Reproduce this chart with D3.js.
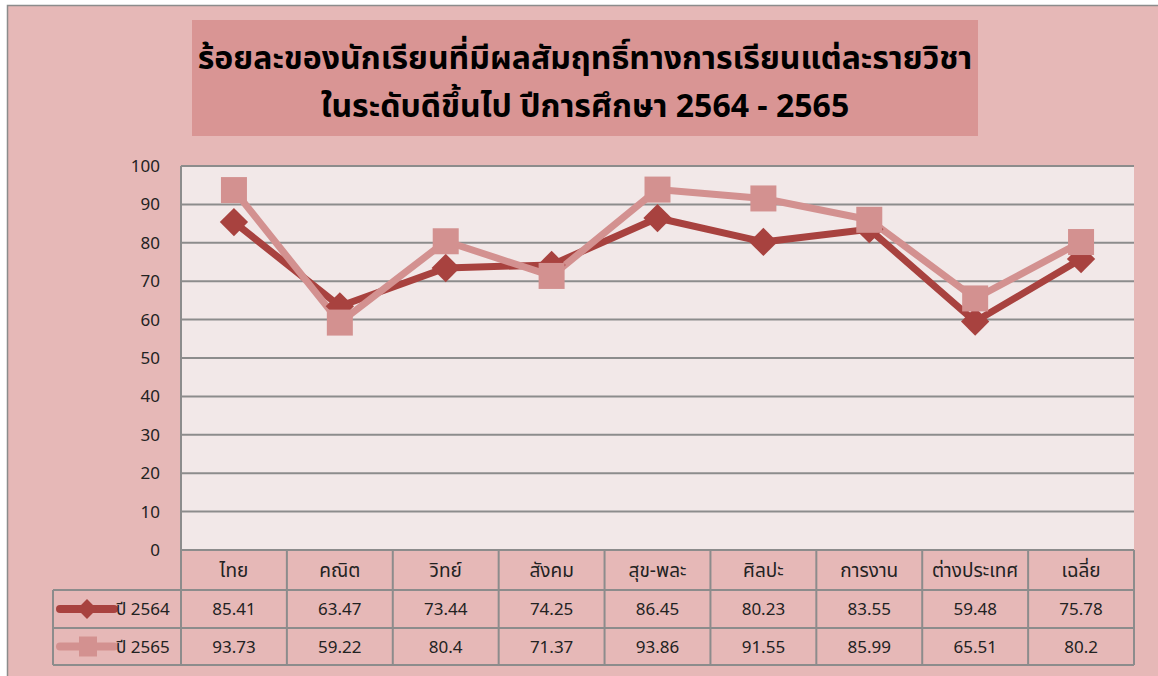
<!DOCTYPE html>
<html><head><meta charset="utf-8">
<script src="https://cdn.jsdelivr.net/npm/d3@7/dist/d3.min.js"></script>
<style>body{margin:0;background:#fff;} svg{display:block;}</style>
</head><body><svg id="c" width="1158" height="676"></svg>
<script>
const categories = ["ไทย","คณิต","วิทย์","สังคม","สุข-พละ","ศิลปะ","การงาน","ต่างประเทศ","เฉลี่ย"];
const seriesNames = ["ปี 2564","ปี 2565"];
const values2564 = [85.41,63.47,73.44,74.25,86.45,80.23,83.55,59.48,75.78];
const values2565 = [93.73,59.22,80.4,71.37,93.86,91.55,85.99,65.51,80.2];
const valueLabels2564 = ["85.41","63.47","73.44","74.25","86.45","80.23","83.55","59.48","75.78"];
const valueLabels2565 = ["93.73","59.22","80.4","71.37","93.86","91.55","85.99","65.51","80.2"];
const yTicks = [0,10,20,30,40,50,60,70,80,90,100];
const titleLines = ["ร้อยละของนักเรียนที่มีผลสัมฤทธิ์ทางการเรียนแต่ละรายวิชา","ในระดับดีขึ้นไป ปีการศึกษา 2564 - 2565"];

const svg = d3.select("#c");
const font = "'Noto Sans Thai','Tahoma','DejaVu Sans','Noto Sans',sans-serif";
const colors = ["#a8423f","#d39190"];

// outer frame
svg.append("rect").attr("x",7.5).attr("y",5.5).attr("width",1160).attr("height",680)
  .attr("fill","#e6b8b7").attr("stroke","#8c8c8c").attr("stroke-width",1.5);

// title
svg.append("rect").attr("x",192).attr("y",20).attr("width",786).attr("height",116).attr("fill","#d99594");
svg.selectAll("text.title").data(titleLines).enter().append("text")
  .attr("x",585).attr("y",(d,i)=>69+i*48).attr("text-anchor","middle")
  .attr("font-family",font).attr("font-weight","bold").attr("font-size",32).attr("fill","#000").text(d=>d);

const L=181, R=1134, T=166, B=550;
const x = d3.scaleBand().domain(categories).range([L,R]);
const y = d3.scaleLinear().domain([0,100]).range([B,T]);

svg.append("rect").attr("x",L).attr("y",T).attr("width",R-L).attr("height",B-T).attr("fill","#f2e8e8");

// gridlines
svg.append("g").selectAll("line").data(yTicks).enter().append("line")
  .attr("x1",L).attr("x2",R).attr("y1",d=>y(d)).attr("y2",d=>y(d))
  .attr("stroke","#8c8c8c").attr("stroke-width",2);
svg.append("line").attr("x1",L).attr("x2",L).attr("y1",T).attr("y2",B).attr("stroke","#8c8c8c").attr("stroke-width",2);

// y axis labels
const yAxis = d3.axisLeft(y).tickValues(yTicks).tickSize(0).tickPadding(0);
const ga = svg.append("g").attr("transform",`translate(${L-21},0)`).call(yAxis);
ga.select(".domain").remove();
ga.selectAll("text").attr("font-family",font).attr("font-size",17).attr("fill","#222");

// lines
const cx = d=>x(d)+x.bandwidth()/2;
const line = d3.line().x((d,i)=>cx(categories[i])).y(d=>y(d));
const allSeries = [values2564, values2565];
allSeries.forEach((vals,si)=>{
  svg.append("path").datum(vals).attr("d",line).attr("fill","none")
    .attr("stroke",colors[si]).attr("stroke-width",7).attr("stroke-linejoin","round");
});
// markers
const g1 = svg.append("g");
g1.selectAll("rect").data(values2564).enter().append("rect")
  .attr("x",-10).attr("y",-10).attr("width",20).attr("height",20)
  .attr("transform",(d,i)=>`translate(${cx(categories[i])},${y(d)}) rotate(45)`)
  .attr("fill",colors[0]);
const g2 = svg.append("g");
g2.selectAll("rect").data(values2565).enter().append("rect")
  .attr("x",(d,i)=>cx(categories[i])-13).attr("y",d=>y(d)-13).attr("width",26).attr("height",26)
  .attr("fill",colors[1]);

// data table
const rowY=[550,590,628,665];
const tbl = svg.append("g");
const lc="#8c8c8c";
tbl.append("line").attr("x1",L).attr("x2",R).attr("y1",rowY[0]).attr("y2",rowY[0]).attr("stroke",lc).attr("stroke-width",2);
[1,2,3].forEach(k=>tbl.append("line").attr("x1",53).attr("x2",R).attr("y1",rowY[k]).attr("y2",rowY[k]).attr("stroke",lc).attr("stroke-width",2));
const vx = categories.map(c=>x(c)).concat([R]);
vx.forEach(v=>tbl.append("line").attr("x1",v).attr("x2",v).attr("y1",rowY[0]).attr("y2",rowY[3]).attr("stroke",lc).attr("stroke-width",2));
tbl.append("line").attr("x1",53).attr("x2",53).attr("y1",rowY[1]).attr("y2",rowY[3]).attr("stroke",lc).attr("stroke-width",2);

const tf = 17;
tbl.selectAll("text.cat").data(categories).enter().append("text")
  .attr("x",d=>cx(d)).attr("y",(rowY[0]+rowY[1])/2+7).attr("text-anchor","middle")
  .attr("font-family",font).attr("font-size",19).attr("fill","#222").text(d=>d);
[valueLabels2564,valueLabels2565].forEach((labs,si)=>{
  tbl.selectAll("text.v"+si).data(labs).enter().append("text")
    .attr("x",(d,i)=>cx(categories[i])).attr("y",(rowY[si+1]+rowY[si+2])/2+6).attr("text-anchor","middle")
    .attr("font-family",font).attr("font-size",tf).attr("fill","#222").text(d=>d);
  const my=(rowY[si+1]+rowY[si+2])/2;
  tbl.append("line").attr("x1",60).attr("x2",114).attr("y1",my).attr("y2",my)
    .attr("stroke",colors[si]).attr("stroke-width",8).attr("stroke-linecap","round");
  if(si===0){
    tbl.append("rect").attr("x",-7).attr("y",-7).attr("width",14).attr("height",14)
      .attr("transform",`translate(87,${my}) rotate(45)`).attr("fill",colors[0]);
  } else {
    tbl.append("rect").attr("x",79).attr("y",my-10).attr("width",18).attr("height",20).attr("fill",colors[1]);
  }
  tbl.append("text").attr("x",116).attr("y",my+6).attr("font-family",font).attr("font-size",tf)
    .attr("fill","#222").text(seriesNames[si]);
});
</script></body></html>
